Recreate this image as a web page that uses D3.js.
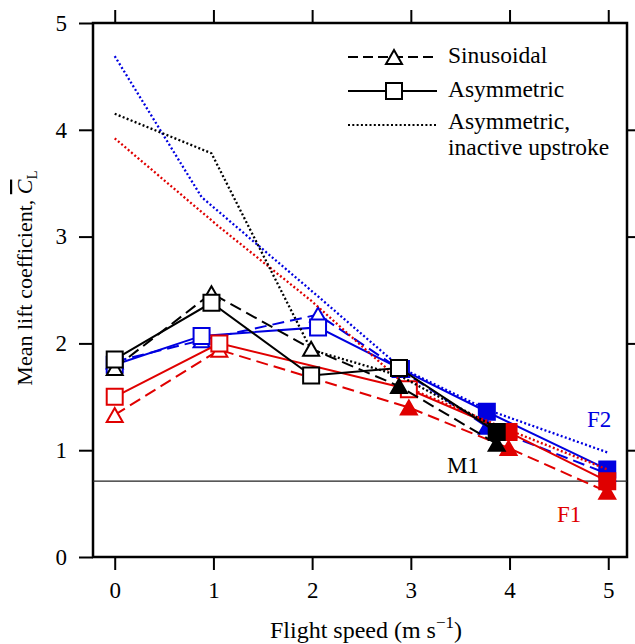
<!DOCTYPE html>
<html lang="en">
<head>
    <script src="https://d3js.org/d3.v7.min.js"></script>
    <style>
        body { margin: 0; background: white; }
        svg text { font-family: 'Liberation Serif', 'DejaVu Serif', serif; }
        .tick line { stroke-width: 2; }
    </style>
</head>
<body>
    <svg id="chart" width="635" height="644"></svg>

    <script>
    // axis ticks
    const speedTicks = [0, 1, 2, 3, 4, 5];
    const liftTicks = [0, 1, 2, 3, 4, 5];
    const rightTicks = [1, 2, 3, 4];
    const m1Reference = 0.71;

    // M1 (black)
    const speedM1 = [0, 0.98, 1.99, 2.88, 3.87];
    const sinM1 = [1.77, 2.47, 1.95, 1.60, 1.06];
    const sinM1Solid = [0, 0, 0, 1, 1];
    const asymM1 = [1.85, 2.38, 1.70, 1.77, 1.17];
    const asymM1Solid = [0, 0, 0, 0, 1];
    const inactiveM1 = [4.15, 3.78, 1.94, 1.70, 1.21];

    // F2 (blue)
    const speedF2 = [0, 0.88, 2.06, 2.90, 3.77, 4.99];
    const sinF2 = [1.83, 2.03, 2.27, 1.75, 1.22, 0.78];
    const sinF2Solid = [0, 0, 0, 0, 1, 1];
    const asymF2 = [1.80, 2.07, 2.15, 1.76, 1.36, 0.82];
    const asymF2Solid = [0, 0, 0, 0, 1, 1];
    const inactiveF2 = [4.69, 3.37, 2.44, 1.77, 1.38, 0.98];

    // F1 (red)
    const speedF1 = [0, 1.06, 2.98, 3.99, 4.99];
    const sinF1 = [1.33, 1.94, 1.40, 1.02, 0.61];
    const sinF1Solid = [0, 0, 1, 1, 1];
    const asymF1 = [1.50, 2.00, 1.57, 1.17, 0.71];
    const asymF1Solid = [0, 0, 0, 1, 1];
    const speedF1Inactive = [0, 1.06, 1.99, 2.98, 3.99, 4.99];
    const inactiveF1 = [3.92, 3.09, 2.40, 1.58, 1.19, 0.82];

    const black = "#000000", blue = "#0000e0", red = "#e00000";
    const serif = "'Liberation Serif', 'DejaVu Serif', serif";

    const svg = d3.select("#chart").attr("font-family", serif);
    const plotLeft = 93, plotRight = 627, plotTop = 23, plotBottom = 557;

    const x = d3.scaleLinear().domain([-0.22, 5.19]).range([plotLeft, plotRight]);
    const y = d3.scaleLinear().domain([0, 5]).range([plotBottom, plotTop]);

    function styleAxis(g) {
        g.attr("font-family", serif);
        g.select(".domain").remove();
        g.selectAll("text").style("font-size", "23px");
    }

    svg.append("g")
        .attr("transform", `translate(0,${plotBottom})`)
        .call(d3.axisBottom(x).tickValues(speedTicks).tickSize(13).tickPadding(12).tickFormat(d3.format("d")))
        .call(styleAxis);
    svg.append("g")
        .attr("transform", `translate(0,${plotTop})`)
        .call(d3.axisTop(x).tickValues(speedTicks).tickSize(13).tickFormat(""))
        .call(styleAxis);
    svg.append("g")
        .attr("transform", `translate(${plotLeft},0)`)
        .call(d3.axisLeft(y).tickValues(liftTicks).tickSize(14).tickPadding(12).tickFormat(d3.format("d")))
        .call(styleAxis);
    svg.append("g")
        .attr("transform", `translate(${plotRight},0)`)
        .call(d3.axisRight(y).tickValues(rightTicks).tickSize(13).tickFormat(""))
        .call(styleAxis);

    svg.append("rect")
        .attr("x", plotLeft).attr("y", plotTop)
        .attr("width", plotRight - plotLeft).attr("height", plotBottom - plotTop)
        .attr("fill", "none").attr("stroke", "black").attr("stroke-width", 2.5);

    // M1 reference line
    svg.append("line")
        .attr("x1", plotLeft).attr("x2", plotRight)
        .attr("y1", y(m1Reference)).attr("y2", y(m1Reference))
        .attr("stroke", "#222").attr("stroke-width", 1.2);

    const dashes = { sin: "12,6", asym: null, inactive: "2,2.3" };

    function drawLine(xs, ys, color, kind) {
        const line = d3.line().x(d => x(d[0])).y(d => y(d[1]));
        svg.append("path")
            .datum(d3.zip(xs, ys))
            .attr("d", line)
            .attr("fill", "none")
            .attr("stroke", color)
            .attr("stroke-width", kind === "inactive" ? 2.3 : 2)
            .attr("stroke-dasharray", dashes[kind]);
    }

    function markerPath(shape) {
        if (shape === "triangle") return "M0,-7L8,7L-8,7Z";
        return "M-8,-8H8V8H-8Z";
    }

    function drawMarkers(xs, ys, solid, color, shape) {
        svg.append("g").selectAll("path")
            .data(d3.zip(xs, ys, solid))
            .join("path")
            .attr("transform", d => `translate(${x(d[0])},${y(d[1])})`)
            .attr("d", markerPath(shape))
            .attr("fill", d => d[2] ? color : "white")
            .attr("stroke", color)
            .attr("stroke-width", 2);
    }

    // blue first, then red, then black on top
    drawLine(speedF2, inactiveF2, blue, "inactive");
    drawLine(speedF2, sinF2, blue, "sin");
    drawLine(speedF2, asymF2, blue, "asym");
    drawMarkers(speedF2, sinF2, sinF2Solid, blue, "triangle");
    drawMarkers(speedF2, asymF2, asymF2Solid, blue, "square");

    drawLine(speedF1Inactive, inactiveF1, red, "inactive");
    drawLine(speedF1, sinF1, red, "sin");
    drawLine(speedF1, asymF1, red, "asym");
    drawMarkers(speedF1, sinF1, sinF1Solid, red, "triangle");
    drawMarkers(speedF1, asymF1, asymF1Solid, red, "square");

    drawLine(speedM1, inactiveM1, black, "inactive");
    drawLine(speedM1, sinM1, black, "sin");
    drawLine(speedM1, asymM1, black, "asym");
    drawMarkers(speedM1, sinM1, sinM1Solid, black, "triangle");
    drawMarkers(speedM1, asymM1, asymM1Solid, black, "square");

    // series labels
    svg.append("text").attr("x", 447).attr("y", 473).style("font-size", "23px").text("M1");
    svg.append("text").attr("x", 587).attr("y", 427).style("font-size", "23px").style("fill", blue).text("F2");
    svg.append("text").attr("x", 557).attr("y", 522).style("font-size", "23px").style("fill", red).text("F1");

    // legend
    const legend = svg.append("g");
    const legendRows = [
        { kind: "sin", shape: "triangle", y: 57 },
        { kind: "asym", shape: "square", y: 91 },
        { kind: "inactive", shape: null, y: 125 }
    ];
    legendRows.forEach(r => {
        legend.append("line")
            .attr("x1", 348).attr("x2", 437).attr("y1", r.y).attr("y2", r.y)
            .attr("stroke", "black").attr("stroke-width", 2)
            .attr("stroke-dasharray", r.kind === "sin" ? "10,5" : dashes[r.kind]);
        if (r.shape) {
            legend.append("path")
                .attr("transform", `translate(394,${r.y})`)
                .attr("d", markerPath(r.shape))
                .attr("fill", "white").attr("stroke", "black").attr("stroke-width", 2);
        }
    });
    const legendText = [["Sinusoidal", 63], ["Asymmetric", 97], ["Asymmetric,", 129], ["inactive upstroke", 155]];
    legendText.forEach(t => {
        legend.append("text").attr("x", 448).attr("y", t[1]).style("font-size", "23.5px").text(t[0]);
    });

    // axis titles
    const xTitle = svg.append("text")
        .attr("x", 366).attr("y", 638)
        .attr("text-anchor", "middle")
        .style("font-size", "24px");
    xTitle.append("tspan").text("Flight speed (m s");
    xTitle.append("tspan").attr("dy", -10).style("font-size", "17px").text("\u22121");
    xTitle.append("tspan").attr("dy", 10).text(")");

    const yTitle = svg.append("text")
        .attr("transform", "translate(32,278) rotate(-90)")
        .attr("text-anchor", "middle")
        .style("font-size", "22px");
    yTitle.append("tspan").text("Mean lift coefficient, ");
    yTitle.append("tspan").style("font-style", "italic").style("text-decoration", "overline").text("C");
    yTitle.append("tspan").attr("dy", 5).style("font-size", "15px").text("L");
    </script>
</body>
</html>
